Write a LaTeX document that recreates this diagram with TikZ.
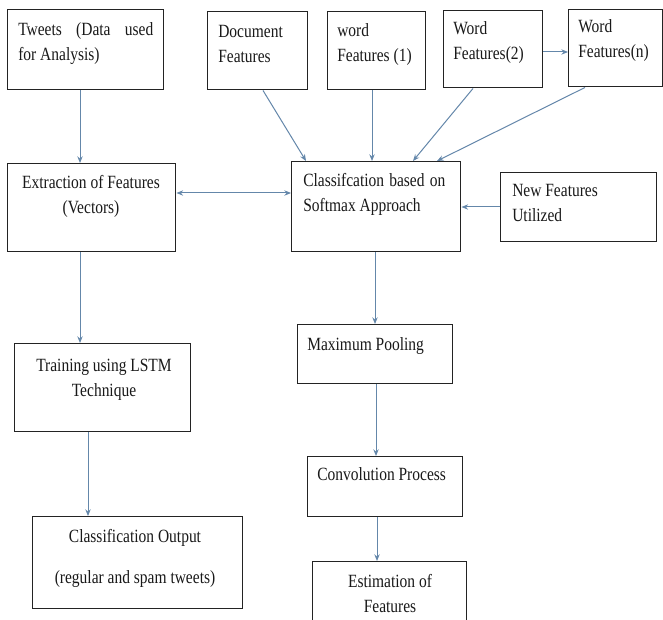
\documentclass[tikz,border=0pt]{standalone}
\usepackage{fontspec}
\setmainfont{Liberation Serif}[FakeStretch=0.83]
\usetikzlibrary{arrows.meta,calc}
\definecolor{arrowc}{RGB}{100,135,170}
\definecolor{boxc}{RGB}{35,35,35}
\newcommand\mkbox[5]{\node[box, anchor=north west, minimum width=#4*0.75pt, minimum height=#5*0.75pt] (#1) at (#2,#3) {};}
\begin{document}
\begin{tikzpicture}[x=0.75pt,y=-0.75pt,
  box/.style={draw=boxc, line width=1.1pt, inner sep=0, fill=white},
  txt/.style={inner sep=0, anchor=base west, text=black!90, font=\fontsize{14pt}{18.75pt}\selectfont},
  ctxt/.style={txt, anchor=base},
  arr/.style={draw=arrowc, line width=0.75pt, -{Stealth[length=5pt,width=4pt]}},
  darr/.style={arr, {Stealth[length=5pt,width=4pt]}-{Stealth[length=5pt,width=4pt]}}
]
\useasboundingbox[fill=white] (0,0) rectangle (663,620);

% boxes
\mkbox{tweets}{7}{9}{156}{80}
\mkbox{doc}{207}{11}{100}{78}
\mkbox{wa}{327}{11}{98}{78}
\mkbox{wb}{443}{10}{99}{77}
\mkbox{wn}{568}{9}{94}{77}
\mkbox{extr}{7}{163}{168}{88}
\mkbox{cls}{291}{161}{169}{90}
\mkbox{newf}{500}{172}{156}{69}
\mkbox{train}{14}{343}{176}{88}
\mkbox{out}{32}{516}{210}{92}
\mkbox{pool}{297}{324}{155}{59}
\mkbox{conv}{307}{456}{155}{60}
\mkbox{est}{312}{561}{154}{64}

% texts
\node[txt] (t-tweets) at (18,36) {\parbox[t]{140pt}{\makebox[101.25pt][s]{Tweets (Data used}\\for Analysis)}};
\node[txt] (t-doc) at (218,38) {\parbox[t]{100pt}{Document\\Features}};
\node[txt] (t-wa) at (337,37) {\parbox[t]{100pt}{word\\Features (1)}};
\node[txt] (t-wb) at (453,35) {\parbox[t]{100pt}{Word\\Features(2)}};
\node[txt] (t-wn) at (578,33) {\parbox[t]{100pt}{Word\\Features(n)}};
\node[ctxt] (t-extr) at (91,189) {\parbox[t]{200pt}{\centering Extraction of Features\\(Vectors)}};
\node[txt] (t-cls) at (303,187) {\parbox[t]{140pt}{\makebox[106.5pt][s]{Classifcation based on}\\Softmax Approach}};
\node[txt] (t-newf) at (512,197) {\parbox[t]{120pt}{New Features\\Utilized}};
\node[ctxt] (t-train) at (104,371) {\parbox[t]{200pt}{\centering Training using LSTM\\Technique}};
\node[ctxt] (t-out) at (135,542) {\parbox[t]{200pt}{\centering Classification Output\\[12pt](regular and spam tweets)}};
\node[txt] (t-pool) at (307,350) {Maximum Pooling};
\node[txt] (t-conv) at (317,480) {Convolution Process};
\node[ctxt] (t-est) at (390,587) {\parbox[t]{200pt}{\centering Estimation of\\Features}};

% connectors
\coordinate (a1) at ($(tweets.south west)+(73,0)$);
\draw[arr] (a1) -- (a1 |- extr.north);
\coordinate (a2s) at ($(doc.south west)+(56,0)$);
\coordinate (a2e) at ($(cls.north west)+(15,0)$);
\draw[arr] (a2s) -- (a2e);
\coordinate (a3) at ($(wa.south west)+(45,0)$);
\draw[arr] (a3) -- (a3 |- cls.north);
\coordinate (a4s) at ($(wb.south west)+(30,0)$);
\coordinate (a4e) at ($(cls.north west)+(122,0)$);
\draw[arr] (a4s) -- (a4e);
\coordinate (a5s) at ($(wn.south west)+(17,0)$);
\coordinate (a5e) at ($(cls.north west)+(146,0)$);
\draw[arr] (a5s) -- (a5e);
\coordinate (a6) at ($(wb.north east)+(0,42)$);
\draw[arr] (a6) -- (a6 -| wn.west);
\coordinate (a7) at ($(extr.north east)+(0,30)$);
\draw[darr] (a7) -- (a7 -| cls.west);
\coordinate (a8) at ($(newf.north west)+(0,35)$);
\draw[arr] (a8) -- (a8 -| cls.east);
\coordinate (a9) at ($(extr.south west)+(73,0)$);
\draw[arr] (a9) -- (a9 |- train.north);
\coordinate (a10) at ($(train.south west)+(74,0)$);
\draw[arr] (a10) -- (a10 |- out.north);
\coordinate (a11) at ($(cls.south west)+(84,0)$);
\draw[arr] (a11) -- (a11 |- pool.north);
\coordinate (a12) at ($(pool.south west)+(79,0)$);
\draw[arr] (a12) -- (a12 |- conv.north);
\coordinate (a13) at ($(conv.south west)+(70,0)$);
\draw[arr] (a13) -- (a13 |- est.north);
\end{tikzpicture}
\end{document}
